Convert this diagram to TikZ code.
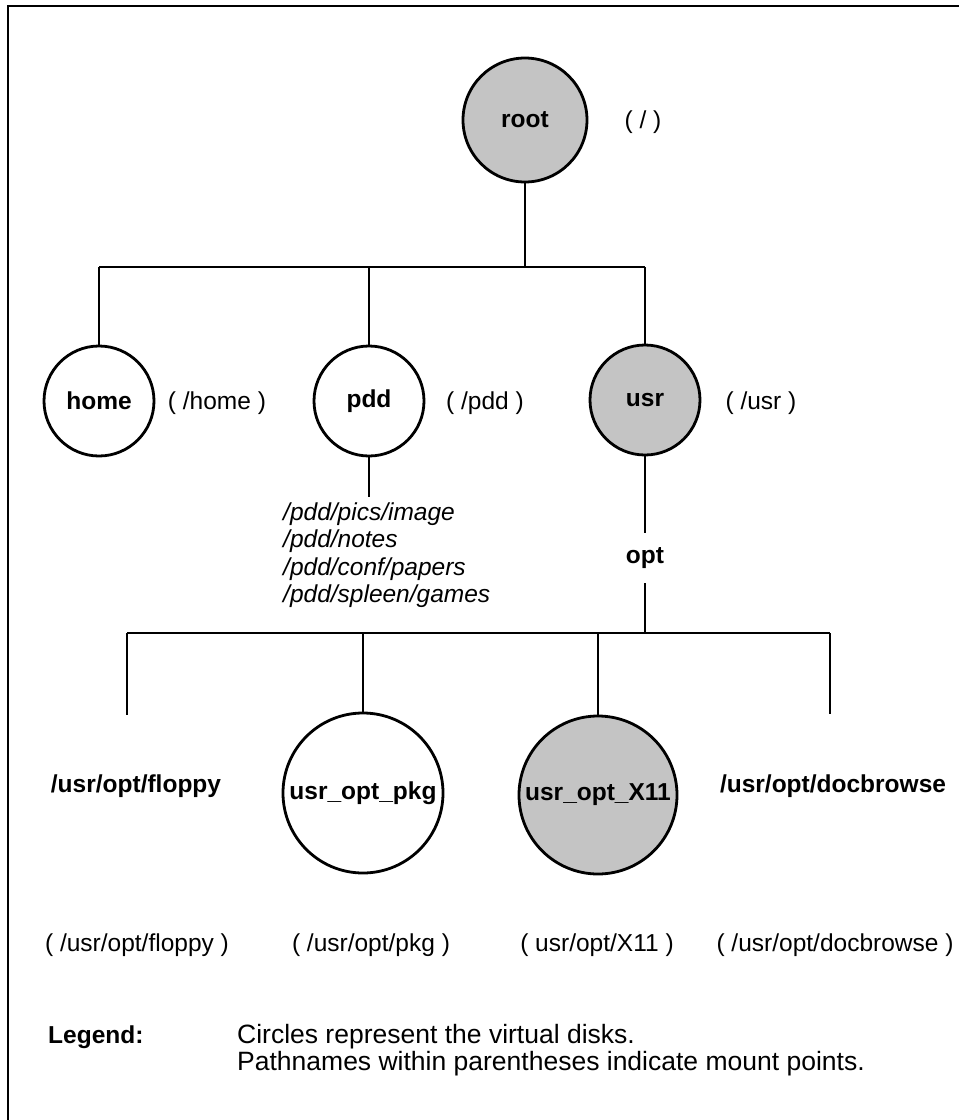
\documentclass[tikz,border=0pt]{standalone}
\usepackage{fontspec}
\setmainfont{Liberation Sans}
\begin{document}
\begin{tikzpicture}[x=1pt,y=-1pt,
  disk/.style={circle,draw,line width=2.8pt,inner sep=0pt,minimum size=#1},
  shaded/.style={fill=black!23},
  link/.style={line width=1.7pt},
  bus/.style={line width=2.6pt},
  dname/.style={font=\fontsize{24.5}{28}\selectfont\bfseries,inner sep=0pt},
  mpoint/.style={font=\fontsize{24.5}{28}\selectfont,inner sep=0pt},
  paths/.style={font=\fontsize{24.5}{27.5}\selectfont\itshape,align=left,inner sep=0pt},
  legend/.style={font=\fontsize{26.5}{27}\selectfont,align=left,inner sep=0pt},
]
\useasboundingbox (0,0) rectangle (959,1120);
\clip (0,0) rectangle (959,1120);

% outer frame
\draw[line width=2.4pt] (8,1130) -- (8,6) -- (970,6);

% root disk
\node[disk=124pt,shaded,dname] (root) at (525,120) {root};
\node[mpoint] (rootmp) at (643,122) {( / )};

% first level bus
\coordinate (b1l) at (99,267);
\coordinate (b1r) at (645,267);
\draw[bus] (b1l) -- (b1r);
\draw[link] (root.south) -- (root.south |- b1l);

% first level disks
\node[disk=110pt,dname] (home) at (99,401) {home};
\node[disk=110pt,dname] (pdd) at (369,401) {pdd};
\node[disk=110pt,shaded,dname] (usr) at (645,400) {usr};
\node[mpoint] (homemp) at (217,403) {( /home )};
\node[mpoint] (pddmp) at (485,403) {( /pdd )};
\node[mpoint] (usrmp) at (761,403) {( /usr )};
\foreach \d in {home,pdd,usr}
  \draw[link] (\d.north |- b1l) -- (\d.north);

% directories inside pdd (base anchor sits on the last line)
\coordinate (pddend) at (369,497);
\draw[link] (pdd.south) -- (pddend);
\node[paths,anchor=base west] (pddlist) at (283,602.5)
  {/pdd/pics/image\\/pdd/notes\\/pdd/conf/papers\\/pdd/spleen/games};

% opt under usr
\node[dname,minimum height=50pt] (opt) at (645,558) {opt};
\draw[link] (usr.south) -- (opt.north);

% second level bus
\coordinate (b2l) at (127,633);
\coordinate (b2r) at (830,633);
\draw[bus] (b2l) -- (b2r);
\draw[link] (opt.south) -- (opt.south |- b2l);

% second level entries
\node[disk=160pt,dname] (pkg) at (363,793) {usr\_opt\_pkg};
\node[disk=158pt,shaded,dname] (x11) at (598,795) {usr\_opt\_X11};
\coordinate (flend) at (127,715);
\coordinate (dbend) at (830,714);
\draw[link] (b2l) -- (flend);
\draw[link] (b2r) -- (dbend);
\draw[link] (pkg.north |- b2l) -- (pkg.north);
\draw[link] (x11.north |- b2l) -- (x11.north);
\node[dname] (floppy) at (136,786) {/usr/opt/floppy};
\node[dname] (docb) at (833,786) {/usr/opt/docbrowse};

% mount points of the second level
\node[mpoint] (floppymp) at (137,945) {( /usr/opt/floppy )};
\node[mpoint] (pkgmp) at (371,945) {( /usr/opt/pkg )};
\node[mpoint] (x11mp) at (597,945) {( usr/opt/X11 )};
\node[mpoint] (docbmp) at (835,945) {( /usr/opt/docbrowse )};

% legend
\node[dname,anchor=base west] (legkey) at (48,1043) {Legend:};
\node[legend,anchor=base west] (legtext) at (237,1070)
  {Circles represent the virtual disks.\\Pathnames within parentheses indicate mount points.};
\end{tikzpicture}
\end{document}
